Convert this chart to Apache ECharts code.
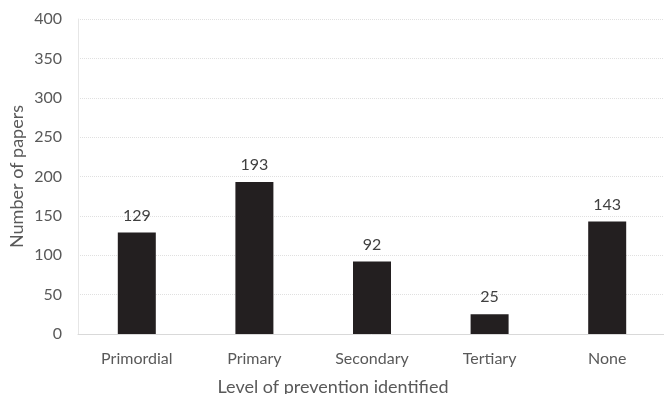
<!DOCTYPE html>
<html><head><meta charset="utf-8">
<script src="https://cdn.jsdelivr.net/npm/echarts@6/dist/echarts.min.js"></script>
<style>html,body{margin:0;padding:0;background:#fff}#c{width:664px;height:394px}</style>
</head><body><div id="c"></div>
<script>
const categories = ["Primordial", "Primary", "Secondary", "Tertiary", "None"];
const papers = [129, 193, 92, 25, 143];
const yTicks = [0, 50, 100, 150, 200, 250, 300, 350, 400];

const FONT = "Lato";
const chart = echarts.init(document.getElementById('c'), null, {renderer: 'canvas'});
chart.setOption({
  animation: false,
  textStyle: {fontFamily: FONT},
  grid: {left: 78, top: 19, width: 588, bottom: 60, containLabel: false, outerBoundsMode: 'none'},
  xAxis: {
    type: 'category',
    data: categories,
    axisLine: {show: true, lineStyle: {color: '#d9d9d9', width: 1}},
    axisTick: {show: false},
    axisLabel: {color: '#595959', fontSize: 16, fontFamily: FONT, margin: 17},
    name: 'Level of prevention identified',
    nameLocation: 'middle',
    nameGap: 44,
    nameMoveOverlap: false,
    nameTextStyle: {color: '#595959', fontSize: 18, fontFamily: FONT, padding: [0, 78, 0, 0]}
  },
  yAxis: {
    type: 'value',
    min: yTicks[0], max: yTicks[yTicks.length - 1], interval: 50,
    axisLine: {show: true, lineStyle: {color: '#e6e6e6', width: 1}},
    axisTick: {show: false},
    splitLine: {show: true, lineStyle: {color: '#e0e0e0', type: [1, 1], width: 1}},
    axisLabel: {color: '#595959', fontSize: 16, fontFamily: FONT, margin: 16},
    name: 'Number of papers',
    nameLocation: 'middle',
    nameGap: 52,
    nameMoveOverlap: false,
    nameTextStyle: {color: '#595959', fontSize: 18, fontFamily: FONT}
  },
  series: [{
    type: 'bar',
    data: papers,
    barWidth: 38,
    itemStyle: {color: '#231f20'},
    label: {show: true, position: 'top', distance: 9, color: '#404040', fontSize: 16, fontFamily: FONT}
  }]
});
</script></body></html>
